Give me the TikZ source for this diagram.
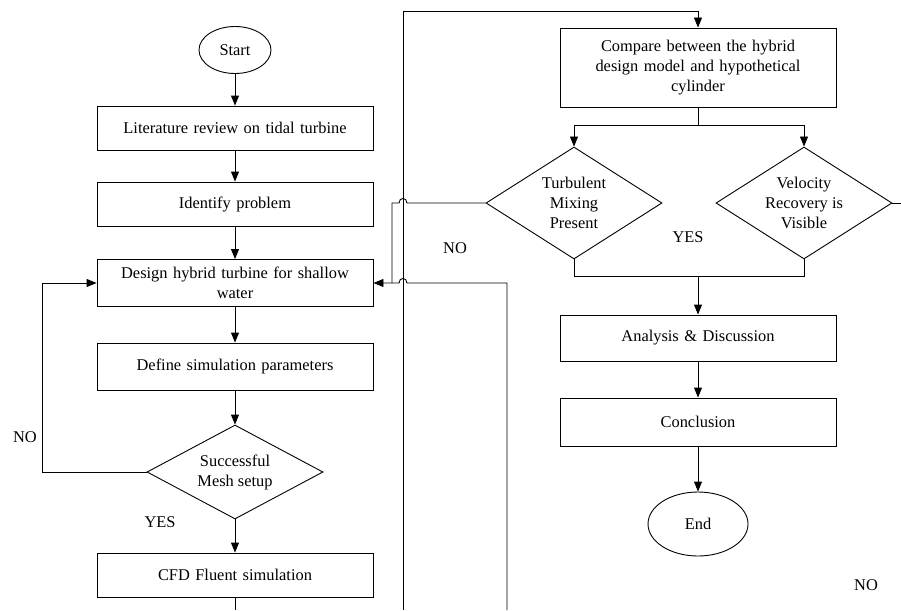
\documentclass[tikz,border=0pt]{standalone}
\usepackage{fontspec}
\setmainfont{Liberation Serif}
\usetikzlibrary{shapes.geometric,arrows.meta}
\newcommand\flowfont{\fontsize{16.4}{20}\selectfont}

\begin{document}
\begin{tikzpicture}[x=1pt,y=-1pt,line width=0.9pt,>={Triangle[length=10pt,width=8pt]},
	box/.style={draw,rectangle,inner sep=0pt,minimum width=276pt,minimum height=46pt,text width=268pt,align=center,font=\flowfont},
	test/.style={draw,diamond,inner sep=-8pt,minimum width=176pt,minimum height=112pt,align=center,font=\flowfont},
	term/.style={draw,ellipse,inner sep=0pt,font=\flowfont},
	lbl/.style={font=\flowfont}]
			\useasboundingbox (0,0) rectangle (901,610);
			\node[term,minimum width=72pt,minimum height=47pt](start) at (235,50){Start};
			\node[box,minimum height=44pt](lit) at (235,128){Literature review on tidal turbine};
			\node[box,minimum height=44pt](ident) at (235,204){Identify problem};
			\node[box,minimum height=47pt](design) at (235,283){Design hybrid turbine for shallow\\water};
			\node[box,minimum height=47pt](define) at (235,366.5){Define simulation parameters};
			\node[test,minimum height=94pt](mesh) at (235,472){Successful\\Mesh setup};
			\node[box,minimum height=44pt](cfd) at (235,575){CFD Fluent simulation};
			\node[box,minimum height=79pt](compare) at (698,67.5){Compare between the hybrid\\design model and hypothetical\\cylinder};
			\node[test](tur) at (574,203){Turbulent\\Mixing\\Present};
			\node[test](vel) at (804,203){Velocity\\Recovery is\\Visible};
			\node[box](anal) at (698,338){Analysis \& Discussion};
			\node[box,minimum height=48pt](concl) at (698,422){Conclusion};
			\node[term,minimum width=100pt,minimum height=64pt](endn) at (698,524){End};
			\node[lbl](no1) at (25,437){NO};
			\node[lbl](yes1) at (160,522){YES};
			\node[lbl](no2) at (455,248){NO};
			\node[lbl](yes2) at (688,237){YES};
			\node[lbl](no3) at (866,585){NO};
			\coordinate (loopL) at (42,283);
			\coordinate (split) at (698,125);
			\coordinate (merge) at (698,276);
			\coordinate (topR) at (698,11);
			\coordinate (cfdEnd) at (235,610);
			\coordinate (upLine) at (403,610);
			\coordinate (backLine) at (507,610);
			\coordinate (velEnd) at (901,203);
			\coordinate (turTurn) at (392,203);
			\coordinate (backTurn) at (507,283);
			\draw[->](start)--(lit);
			\draw[->](lit)--(ident);
			\draw[->](ident)--(design);
			\draw[->](design)--(define);
			\draw[->](define)--(mesh);
			\draw[->](mesh)--(cfd);
			\draw(cfd)--(cfdEnd);
			\draw[->](mesh.west)-|(loopL)--(design.west);
			\draw[->](upLine)|-(topR)--(compare.north);
			\draw(compare)--(split);
			\draw[->](split)-|(tur);
			\draw[->](split)-|(vel);
			\draw(tur.south)|-(merge);
			\draw(vel.south)|-(merge);
			\draw[->](merge)--(anal);
			\draw[->](anal)--(concl);
			\draw[->](concl)--(endn);
			\draw(vel.east)--(velEnd);
			\draw(tur.west)--(407,203)..controls(407,197)and(399,197)..(399,203)--(turTurn)--(392,283);
			\draw[->](backLine)--(backTurn)--(407,283)..controls(407,277)and(399,277)..(399,283)--(design.east);
		\end{tikzpicture}
\end{document}
